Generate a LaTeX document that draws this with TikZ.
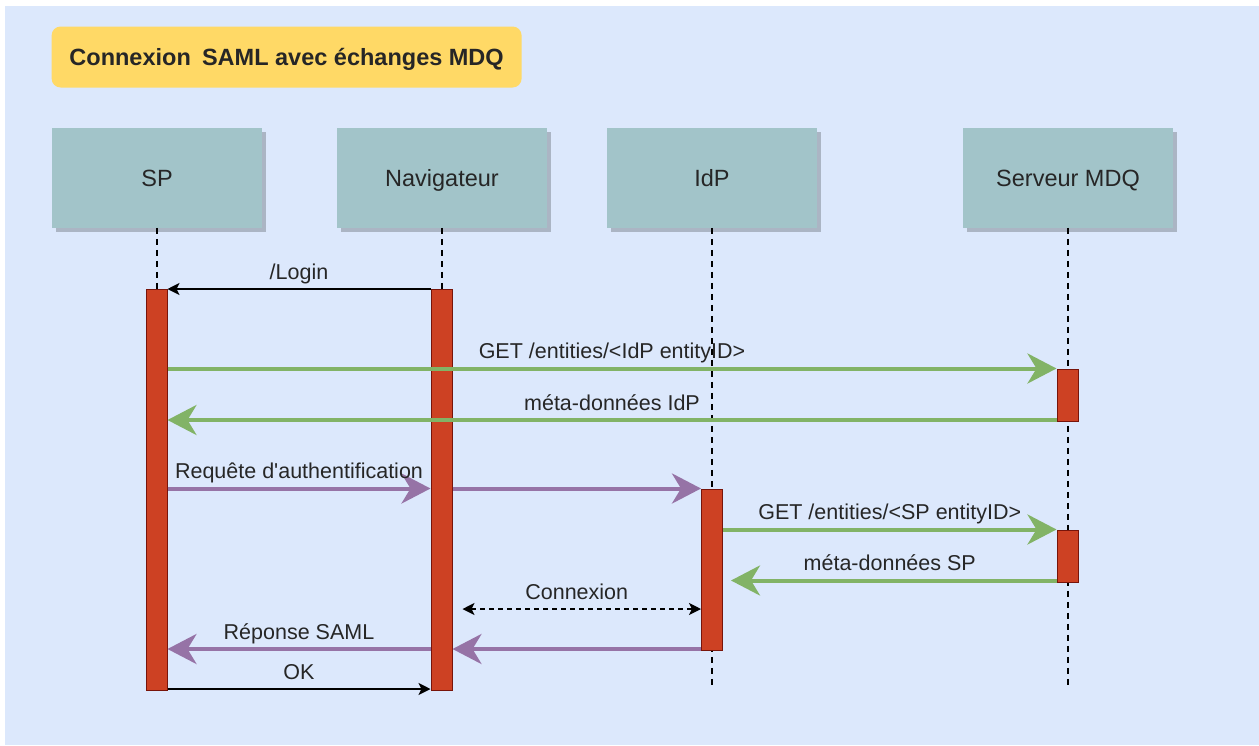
\documentclass[tikz,border=0pt]{standalone}
\usepackage{fontspec}
\setmainfont{Liberation Sans}
\usetikzlibrary{arrows.meta,shadows}
\definecolor{bg}{HTML}{DCE8FC}
\definecolor{titlefill}{HTML}{FFD966}
\definecolor{headfill}{HTML}{A2C4C9}
\definecolor{barfill}{RGB}{205,65,35}
\definecolor{barline}{RGB}{120,20,10}
\definecolor{grn}{HTML}{82B366}
\definecolor{prp}{HTML}{9673A6}
\definecolor{txt}{HTML}{262626}
\begin{document}
\begin{tikzpicture}[x=1pt,y=-1pt,
  titlebox/.style={fill=titlefill, rounded corners=9pt, minimum width=470pt, minimum height=61pt, inner sep=0pt, text=txt, font=\fontsize{23.5}{28}\selectfont\bfseries, text height=17pt, text depth=0pt},
  head/.style={fill=headfill, minimum width=210pt, minimum height=100pt, inner sep=0pt, text=txt, font=\fontsize{23.5}{28}\selectfont,
    text height=17pt, text depth=0pt,
    drop shadow={shadow xshift=4pt, shadow yshift=-4pt, fill=black, opacity=0.22}},
  bar/.style={fill=barfill, draw=barline, line width=1pt, minimum width=21pt, inner sep=0pt, anchor=north},
  life/.style={draw=black, line width=1.3pt, dash pattern=on 6pt off 5pt},
  lbl/.style={midway, anchor=base, yshift=10pt, inner sep=0pt, text=txt, font=\fontsize{21.5}{26}\selectfont},
  blk/.style={draw=black, line width=1.3pt, -{Stealth[length=12pt,width=12pt,inset=3pt]}},
  dashedarrow/.style={draw=black, line width=1.3pt, dash pattern=on 5pt off 4pt, {Stealth[length=12pt,width=12pt,inset=3pt]}-{Stealth[length=12pt,width=12pt,inset=3pt]}},
  fatg/.style={draw=grn, line width=4pt, -{Stealth[length=29pt,width=30pt,inset=9pt]}},
  fatp/.style={draw=prp, line width=4pt, -{Stealth[length=29pt,width=30pt,inset=9pt]}}
]
\useasboundingbox (0,0) rectangle (1259,745);
\fill[bg] (5,6) rectangle (1259,745);

\node[titlebox] (title) at (286.6,57) {Connexion\kern0.2em\ SAML avec échanges MDQ};

\node[head] (sp)  at (157,177.7) {SP};
\node[head] (nav) at (442,177.7) {Navigateur};
\node[head] (idp) at (712,177.7) {IdP};
\node[head] (mdq) at (1068,177.7) {Serveur MDQ};

\coordinate (endline) at (0,689);
\draw[life] (sp.south) -- (sp.south |- endline);
\draw[life] (nav.south) -- (nav.south |- endline);
\draw[life] (idp.south) -- (idp.south |- endline);
\draw[life] (mdq.south) -- (mdq.south |- endline);

\node[bar, minimum height=401pt] (spbar)  at (156.5,289) {};
\node[bar, minimum height=401pt] (navbar) at (441.5,289) {};
\node[bar, minimum height=160.5pt] (idpbar) at (712,489) {};
\node[bar, minimum height=52pt] (mdqbar1) at (1067.5,368.5) {};
\node[bar, minimum height=52pt] (mdqbar2) at (1067.5,529.5) {};

\coordinate (yLogin) at (0,289);
\coordinate (yGetIdp) at (0,368.5);
\coordinate (yMetaIdp) at (0,420);
\coordinate (yReq) at (0,488.5);
\coordinate (yGetSp) at (0,529.5);
\coordinate (yMetaSp) at (0,580.5);
\coordinate (yCon) at (0,609);
\coordinate (yRep) at (0,649);
\coordinate (yOk) at (0,689);

\draw[blk] (navbar.west |- yLogin) -- node[lbl]{/Login} (spbar.east |- yLogin);
\draw[fatg] (spbar.east |- yGetIdp) -- node[lbl]{GET /entities/<IdP entityID>} (mdqbar1.west |- yGetIdp);
\draw[fatg] (mdqbar1.west |- yMetaIdp) -- node[lbl]{méta-données IdP} (spbar.east |- yMetaIdp);
\draw[fatp] (spbar.east |- yReq) -- node[lbl]{Requête d\textquotesingle authentification} (navbar.west |- yReq);
\draw[fatp] (navbar.east |- yReq) -- (idpbar.west |- yReq);
\draw[fatg] (idpbar.east |- yGetSp) -- node[lbl]{GET /entities/<SP entityID>} (mdqbar2.west |- yGetSp);
\draw[fatg, shorten >=8pt] (mdqbar2.west |- yMetaSp) -- node[lbl]{méta-données SP} (idpbar.east |- yMetaSp);
\draw[dashedarrow, shorten <=10pt] (navbar.east |- yCon) -- node[lbl]{Connexion} (idpbar.west |- yCon);
\draw[fatp] (idpbar.west |- yRep) -- (navbar.east |- yRep);
\draw[fatp] (navbar.west |- yRep) -- node[lbl]{Réponse SAML} (spbar.east |- yRep);
\draw[blk] (spbar.east |- yOk) -- node[lbl]{OK} (navbar.west |- yOk);
\end{tikzpicture}
\end{document}
